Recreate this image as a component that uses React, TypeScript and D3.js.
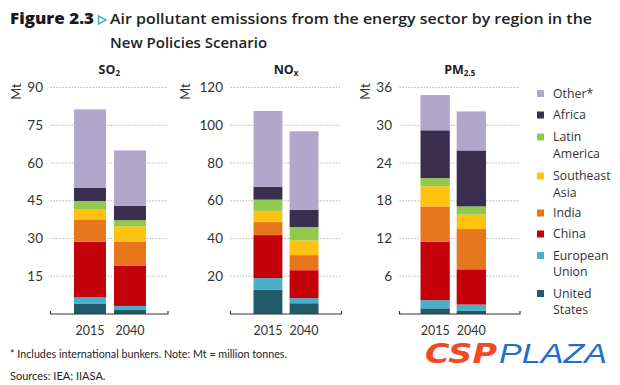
import React from 'react';
import * as d3 from 'd3';

const years = ['2015', '2040'];
const regions = ['United States', 'European Union', 'China', 'India', 'Southeast Asia', 'Latin America', 'Africa', 'Other*'];
const legendLines = [['Other*'], ['Africa'], ['Latin', 'America'], ['Southeast', 'Asia'], ['India'], ['China'], ['European', 'Union'], ['United', 'States']];
const colors = ['#215a69', '#4aafc8', '#c4000b', '#e8761c', '#ffc20e', '#92c94c', '#3a2f4e', '#b1a6cc'];

// Mt, bottom to top in regions order
const so2_2015 = [4.0, 2.6, 22.1, 8.9, 4.1, 3.2, 5.3, 31.1];
const so2_2040 = [1.6, 1.6, 15.9, 9.7, 6.0, 2.5, 5.7, 22.0];
const nox_2015 = [12.8, 6.2, 22.8, 6.9, 5.9, 6.0, 6.8, 40.2];
const nox_2040 = [5.7, 2.7, 14.8, 8.0, 7.8, 7.1, 9.1, 41.6];
const pm_2015 = [0.9, 1.3, 9.3, 5.6, 3.2, 1.3, 7.6, 5.6];
const pm_2040 = [0.5, 1.0, 5.6, 6.4, 2.3, 1.3, 8.9, 6.2];

const so2Ticks = [15, 30, 45, 60, 75, 90];
const noxTicks = [20, 40, 60, 80, 100, 120];
const pmTicks = [6, 12, 18, 24, 30, 36];

const FONT = 'Lato, "Open Sans", sans-serif';
const WIDE = '"Open Sans", Lato, sans-serif';

const panels = [
  { id: 'so2', title: ['SO', '2'], rows: [so2_2015, so2_2040], ticks: so2Ticks, max: 90, axis: [50.5, 168], bars: [74, 146], labelX: 43, mtX: 21, pad: 0.2 },
  { id: 'nox', title: ['NO', 'x'], rows: [nox_2015, nox_2040], ticks: noxTicks, max: 120, axis: [230.5, 341.5], bars: [253.5, 318.5], labelX: 223, mtX: 190, pad: 0.2 },
  { id: 'pm', title: ['PM', '2.5'], rows: [pm_2015, pm_2040], ticks: pmTicks, max: 36, axis: [399.5, 520], bars: [420.5, 486], labelX: 392, mtX: 370, pad: 0.19 },
];

const baseY = 314;
const topY = 87.5;

const Panel = ({ p }) => {
  const y = d3.scaleLinear().domain([0, p.max]).range([baseY, topY]);
  const x = d3.scaleBand().domain(years).range(p.bars).paddingInner(p.pad).paddingOuter(0);
  const table = years.map((yr, i) => {
    const o: any = { year: yr };
    regions.forEach((r, j) => { o[r] = p.rows[i][j]; });
    return o;
  });
  const series = d3.stack().keys(regions)(table);
  const cx = (p.axis[0] + p.axis[1]) / 2;
  return (
    <g>
      <text x={cx} y={74} textAnchor="middle" fontWeight="bold" fontSize="12.5" fill="#222" fontFamily={WIDE}>
        {p.title[0]}<tspan fontSize="8" dy="2">{p.title[1]}</tspan>
      </text>
      <text transform={`translate(${p.mtX},${topY + 4}) rotate(-90)`} textAnchor="middle" fontSize="13" fill="#333">Mt</text>
      {p.ticks.map(t => (
        <g key={t}>
          <line x1={p.axis[0]} x2={p.axis[1]} y1={y(t)} y2={y(t)} stroke="#b8b8b8" strokeWidth="1" strokeDasharray="1.5,1.5" />
          <text x={p.labelX} y={y(t)} dy="0.35em" textAnchor="end" fontSize="13.5" fill="#333">{t}</text>
        </g>
      ))}
      {series.map((s, i) => (
        <g key={s.key} fill={colors[i]}>
          {s.map((d, k) => (
            <rect key={k} x={x(years[k])} width={x.bandwidth()} y={y(d[1])} height={y(d[0]) - y(d[1])} />
          ))}
        </g>
      ))}
      <path d={`M${p.axis[0]},${baseY - 3}V${baseY}H${p.axis[1]}V${baseY - 3}`} fill="none" stroke="#333" strokeWidth="1.2" />
      {years.map(yr => (
        <text key={yr} x={x(yr) + x.bandwidth() / 2} y={335} textAnchor="middle" fontSize="12.5" fill="#333">{yr}</text>
      ))}
    </g>
  );
};

const Legend = () => {
  const rowY = [93.5, 115, 137, 176, 213, 234, 255.5, 293.5];
  return (
    <g fontSize="12.3" fill="#333" fontFamily={WIDE}>
      {legendLines.map((lines, i) => (
        <g key={i}>
          <rect x={537} y={rowY[i] - 3.5} width={7} height={7} fill={colors[colors.length - 1 - i]} />
          {lines.map((ln, k) => (
            <text key={k} x={553} y={rowY[i] + k * 16.5} dy="0.35em">{ln}</text>
          ))}
        </g>
      ))}
    </g>
  );
};

export default function App() {
  return (
    <svg width={620} height={385} style={{ position: 'absolute', left: 0, top: 0, background: '#fff' }} fontFamily={FONT}>
      <rect width={620} height={385} fill="#fff" />
      <text x={10} y={24} fontSize="15.5" fontWeight="800" fill="#1a1a1a" fontFamily={WIDE} textLength={84} lengthAdjust="spacingAndGlyphs">Figure 2.3</text>
      <path d="M98.5,16 L106,20 L98.5,24 Z" fill="none" stroke="#4aafc8" strokeWidth="1.5" />
      <text x={110} y={24} fontSize="15" fontWeight="600" fill="#222" fontFamily={WIDE} textLength={482} lengthAdjust="spacingAndGlyphs">Air pollutant emissions from the energy sector by region in the</text>
      <text x={110} y={48} fontSize="15" fontWeight="600" fill="#222" fontFamily={WIDE}>New Policies Scenario</text>
      {panels.map(p => <Panel key={p.id} p={p} />)}
      <Legend />
      <text x={10} y={358} fontSize="11" fill="#222" textLength={277} lengthAdjust="spacingAndGlyphs">* Includes international bunkers. Note: Mt = million tonnes.</text>
      <text x={10} y={380} fontSize="11" fill="#222">Sources: IEA; IIASA.</text>
      <text x={425} y={363} fontSize="27" fontStyle="italic" fontWeight="900" fill="#f04a23" fontFamily="'DejaVu Sans', sans-serif" textLength={72} lengthAdjust="spacingAndGlyphs">CSP</text>
      <text x={499} y={363} fontSize="27" fontStyle="italic" fill="#1f6fd1" fontFamily="'Liberation Sans', sans-serif" fontWeight="300" textLength={108} lengthAdjust="spacingAndGlyphs">PLAZA</text>
    </svg>
  );
}
